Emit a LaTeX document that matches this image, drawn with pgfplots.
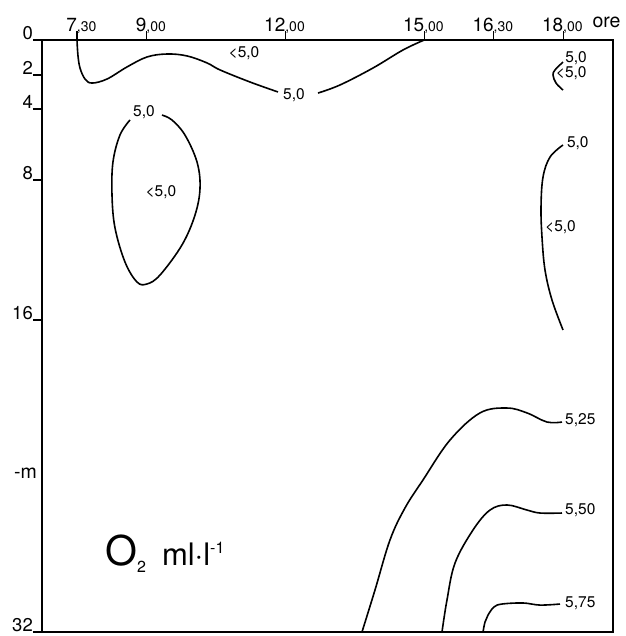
\documentclass[border=0pt]{standalone}
\usepackage{fontspec}
\setmainfont{TeX Gyre Heros}
\usepackage{pgfplots}
\pgfplotsset{compat=1.18}
\newcommand{\fs}[1]{\fontsize{#1}{#1}\selectfont}
\newcommand{\tl}[2]{\llap{\fs{19}#1}\rlap{\fs{14},#2}}
\tikzset{iso/.style={line width=1.6pt, black, solid, smooth, tension=0.6, mark=none}}
\begin{document}
\begin{tikzpicture}
\begin{axis}[
  scale only axis, width=571pt, height=592pt,
  xmin=6.744, xmax=19.077, ymin=0, ymax=33.83, y dir=reverse,
  axis line style={line width=1.9pt},
  clip=false,
  xtick={7.5,9,12,15,16.5,18},
  xticklabels={\tl{7}{30},\tl{9}{00},\tl{12}{00},\tl{15}{00},\tl{16}{30},\tl{18}{00}},
  xtick pos=upper, xticklabel pos=upper,
  ytick={0,2,3.94,8,16,33.83},
  yticklabels={0,2,4,8,16,32},
  ytick pos=lower,
  tick align=outside,
  major tick length=9pt,
  tick style={line width=1.3pt, black},
  xticklabel style={anchor=base, inner sep=0pt},
  yticklabel style={anchor=south east, inner sep=0pt, font=\fs{18.5}},
]
% bounding box of the whole picture
\path (axis cs:5.837,-2.286) rectangle (axis cs:19.336,34.057);

% top 5.0 isoline, left part
\addplot[iso] coordinates {(7.5,0) (7.52,0.86) (7.565,1.6) (7.673,2.23) (7.824,2.46) (8.148,2.23) (8.58,1.54) (9.012,0.97) (9.444,0.80) (9.876,0.91) (10.308,1.31) (10.589,1.71) (11.237,2.4) (11.841,2.97)};
% top 5.0 isoline, right part
\addplot[iso] coordinates {(12.705,3.03) (13.18,2.57) (13.893,1.6) (14.541,0.57) (15.0,0)};
% small arc at 18h
\addplot[iso] coordinates {(17.997,1.26) (17.824,1.71) (17.781,2.0) (17.846,2.46) (17.997,2.86)};
% closed oval
\addplot[iso] coordinates {(8.645,4.57) (8.428,5.43) (8.277,6.97) (8.256,8.86) (8.321,10.74) (8.537,12.69) (8.796,13.83) (9.012,13.94) (9.293,13.43) (9.768,11.71) (10.049,10.0) (10.157,8.46) (10.092,6.97) (9.832,5.43) (9.551,4.57) (9.335,4.29)};
% right 5.0 isoline
\addplot[iso] coordinates {(17.997,6.0) (17.716,6.69) (17.565,7.83) (17.522,9.54) (17.543,11.26) (17.608,13.14) (17.759,14.86) (17.997,16.57)};
% 5.25
\addplot[iso] coordinates {(13.655,33.83) (13.936,31.43) (14.26,28.57) (14.584,26.74) (14.973,25.14) (15.556,22.86) (16.204,21.31) (16.787,21.03) (17.219,21.31) (17.651,21.83) (17.975,21.83)};
% 5.50
\addplot[iso] coordinates {(15.383,33.83) (15.491,32.0) (15.664,29.89) (16.053,28.0) (16.42,26.86) (16.787,26.57) (17.219,26.86) (17.5,27.03) (17.975,27.03)};
% 5.75
\addplot[iso] coordinates {(16.269,33.83) (16.312,33.26) (16.377,32.86) (16.506,32.4) (16.679,32.23) (17.133,32.17) (17.5,32.29) (17.932,32.23)};

% isoline labels
\node[font=\fs{15.5}] at (axis cs:12.187,3.14) {5,0};
\node[font=\fs{15.5}] at (axis cs:11.107,0.74) {<5,0};
\node[font=\fs{15.5}] at (axis cs:18.278,1.03) {5,0};
\node[font=\fs{15.5}, anchor=west, inner sep=0pt] at (axis cs:17.84,1.89) {<5,0};
\node[font=\fs{15.5}] at (axis cs:8.947,4.11) {5,0};
\node[font=\fs{15.5}] at (axis cs:9.314,8.69) {<5,0};
\node[font=\fs{15.5}, anchor=west, inner sep=0pt] at (axis cs:18.08,5.89) {5,0};
\node[font=\fs{15.5}, anchor=west, inner sep=0pt] at (axis cs:17.608,10.69) {<5,0};
\node[font=\fs{15.5}, anchor=west, inner sep=0pt] at (axis cs:18.04,21.71) {5,25};
\node[font=\fs{15.5}, anchor=west, inner sep=0pt] at (axis cs:18.04,26.86) {5,50};
\node[font=\fs{15.5}, anchor=west, inner sep=0pt] at (axis cs:18.04,32.17) {5,75};

% axis annotations
\node[font=\fs{19.5}, anchor=base west, inner sep=0pt] at (axis cs:18.63,-0.74) {ore};
\node[font=\fs{19.5}, anchor=east, inner sep=0pt] at (axis cs:6.637,24.74) {-m};
\node[anchor=base west, inner sep=0pt] at (axis cs:8.105,30.0)
  {\fs{41}O\raisebox{-7pt}{\fs{16}2}\hspace{16pt}\fs{31}ml·l\raisebox{12pt}{\fs{16}-1}};
\end{axis}
\end{tikzpicture}
\end{document}
